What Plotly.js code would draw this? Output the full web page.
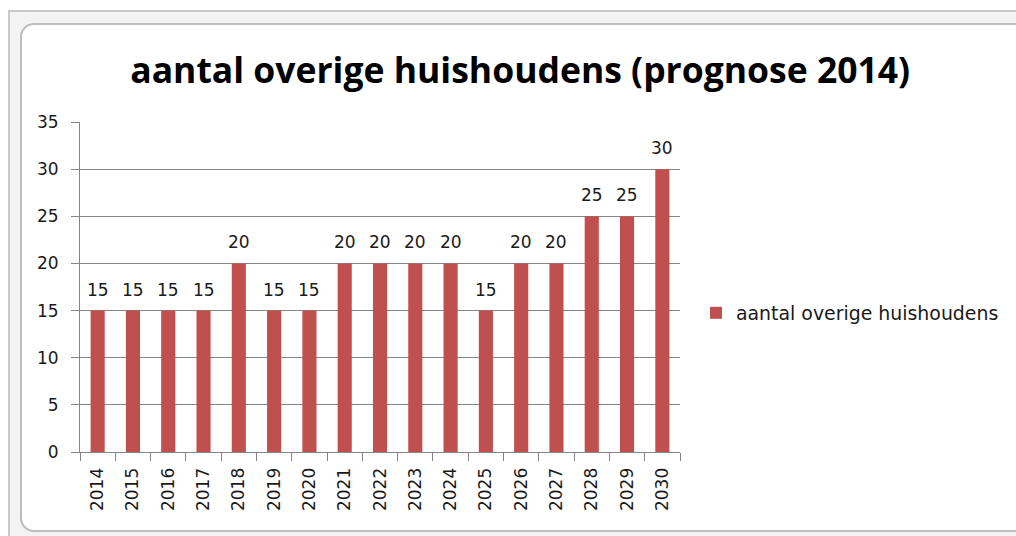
<!DOCTYPE html>
<html>
<head>
<meta charset="utf-8">
<script src="https://cdn.plot.ly/plotly-3.0.1.min.js"></script>
<style>
  html, body { margin:0; padding:0; background:#ffffff; }
  #sheet { position:absolute; left:8px; top:10px; width:1010px; height:528px; background:#f3f3f3; border-left:2px solid #c9c9c9; border-top:2px solid #c9c9c9; }
  #frame { position:absolute; left:20px; top:23px; width:1005px; height:505px; background:#ffffff; border:2px solid #bdbdbd; border-radius:14px; }
  #chart { position:absolute; left:0; top:0; width:1016px; height:536px; }
</style>
</head>
<body>
<div id="sheet"></div>
<div id="frame"></div>
<div id="chart"></div>
<script>
const years = ['2014','2015','2016','2017','2018','2019','2020','2021','2022','2023','2024','2025','2026','2027','2028','2029','2030'];
const households = [15,15,15,15,20,15,15,20,20,20,20,15,20,20,25,25,30];
const seriesName = 'aantal overige huishoudens';
const chartTitle = 'aantal overige huishoudens (prognose 2014)';

const labelFont = { family: 'DejaVu Sans', size: 17, color: '#1a1a1a' };

const trace = {
  type: 'bar',
  x: years,
  y: households,
  name: seriesName,
  marker: { color: '#c0504d' },
  hoverinfo: 'x+y'
};

// value labels: category index on the category axis, value on the y axis
const valueLabels = households.map((v, i) => ({
  x: i,
  y: v,
  xref: 'x', yref: 'y',
  text: String(v),
  showarrow: false,
  yanchor: 'bottom',
  yshift: 9,
  font: labelFont
}));

const layout = {
  width: 1016,
  height: 536,
  paper_bgcolor: 'rgba(0,0,0,0)',
  plot_bgcolor: 'rgba(0,0,0,0)',
  margin: { l: 80, r: 336, t: 122, b: 84 },
  bargap: 0.6,
  showlegend: true,
  title: {
    text: '<b>' + chartTitle + '</b>',
    font: { family: 'Open Sans', size: 35.5, color: '#000000' },
    xref: 'container', x: 0.512, xanchor: 'center',
    yref: 'container', y: 0.868, yanchor: 'middle'
  },
  font: labelFont,
  annotations: valueLabels,
  xaxis: {
    type: 'category',
    range: [-0.5, years.length - 0.5],
    autorange: false,
    tickangle: -90,
    ticks: 'outside',
    ticklen: 8,
    tickcolor: '#868686',
    tickson: 'boundaries',
    ticklabelstandoff: 8,
    showline: true,
    linecolor: '#868686',
    linewidth: 1,
    showgrid: false,
    tickfont: labelFont
  },
  yaxis: {
    range: [0, 35],
    autorange: false,
    dtick: 5,
    tick0: 0,
    ticks: 'outside',
    ticklen: 8,
    tickcolor: '#868686',
    ticklabelstandoff: 9,
    showline: true,
    linecolor: '#868686',
    linewidth: 1,
    showgrid: true,
    gridcolor: '#868686',
    gridwidth: 1,
    zeroline: false,
    tickfont: labelFont
  },
  legend: {
    xref: 'container', yref: 'container',
    x: 0.685, y: 0.416, xanchor: 'left', yanchor: 'middle',
    font: { family: 'DejaVu Sans', size: 18.9, color: '#1a1a1a' },
    bgcolor: 'rgba(0,0,0,0)',
    itemwidth: 30
  }
};

Plotly.newPlot('chart', [trace], layout, { displayModeBar: false, staticPlot: true });
</script>
</body>
</html>
